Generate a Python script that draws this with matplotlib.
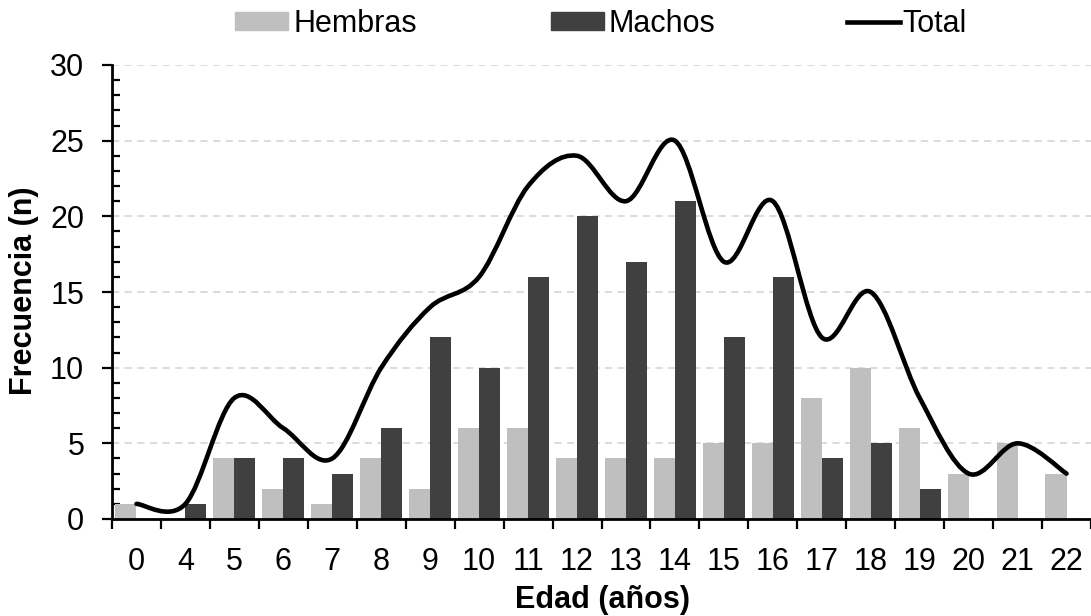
import numpy as np
import matplotlib
matplotlib.use('Agg')
import matplotlib.pyplot as plt
from matplotlib.path import Path
from matplotlib.patches import PathPatch, Patch
from matplotlib.lines import Line2D
from matplotlib.ticker import FixedLocator, MultipleLocator

edades = ['0', '4', '5', '6', '7', '8', '9', '10', '11', '12', '13',
          '14', '15', '16', '17', '18', '19', '20', '21', '22']
hembras = [1, 0, 4, 2, 1, 4, 2, 6, 6, 4, 4, 4, 5, 5, 8, 10, 6, 3, 5, 3]
machos = [0, 1, 4, 4, 3, 6, 12, 10, 16, 20, 17, 21, 12, 16, 4, 5, 2, 0, 0, 0]
total = [1, 1, 8, 6, 4, 10, 14, 16, 22, 24, 21, 25, 17, 21, 12, 15, 8, 3, 5, 3]

plt.rcParams['font.family'] = ['Liberation Sans', 'DejaVu Sans']
FS = 22
W, H = 1091, 616

fig = plt.figure(figsize=(W / 100, H / 100), dpi=100)
ax = fig.add_axes([112 / W, 1 - 519 / H, 1 - 112 / W, (519 - 65) / H])

x = np.arange(len(edades))
bw = 0.43
ax.bar(x - bw / 2, hembras, bw, color='#bfbfbf', zorder=2)
ax.bar(x + bw / 2, machos, bw, color='#404040', zorder=2)


def smooth_path(xs, ys):
    pts = np.column_stack([xs, ys]).astype(float)
    n = len(pts)
    verts = [pts[0]]
    codes = [Path.MOVETO]
    for i in range(n - 1):
        p0 = pts[i - 1] if i > 0 else pts[i]
        p1 = pts[i]
        p2 = pts[i + 1]
        p3 = pts[i + 2] if i + 2 < n else pts[i + 1]
        c1 = p1 + (p2 - p0) / 6.0
        c2 = p2 - (p3 - p1) / 6.0
        verts += [c1, c2, p2]
        codes += [Path.CURVE4] * 3
    return Path(verts, codes)


ax.add_patch(PathPatch(smooth_path(x, total), facecolor='none',
                       edgecolor='black', lw=3.3, zorder=4,
                       capstyle='round', joinstyle='round'))

ax.set_xlim(-0.5, len(edades) - 0.5)
ax.set_ylim(0, 30)

for s in ['top', 'right']:
    ax.spines[s].set_visible(False)
for s in ['left', 'bottom']:
    ax.spines[s].set_linewidth(2.0)
    ax.spines[s].set_color('black')
    ax.spines[s].set_zorder(5)

ax.set_xticks(x)
ax.set_xticklabels(edades)
ax.xaxis.set_minor_locator(FixedLocator(np.arange(-0.5, len(edades), 1.0)))
ax.tick_params(axis='x', which='major', length=0, pad=20, labelsize=FS)
ax.tick_params(axis='x', which='minor', length=7, width=1.6, direction='out')

ax.yaxis.set_major_locator(MultipleLocator(5))
ax.yaxis.set_minor_locator(MultipleLocator(1))
ax.tick_params(axis='y', which='major', length=7, width=1.6, direction='out',
               pad=13, labelsize=FS)
ax.tick_params(axis='y', which='minor', length=6, width=1.6, direction='in')

ax.yaxis.grid(True, which='major', linestyle=(0, (4, 3)), color='#d9d9d9',
              linewidth=1.3, zorder=0)
ax.set_axisbelow(True)

fig.text(24 / W, 1 - 291 / H, 'Frecuencia (n)', rotation=90, ha='center',
         va='center', fontsize=FS, fontweight='bold')
fig.text(603 / W, 1 - 608 / H, 'Edad (años)', ha='center', va='baseline',
         fontsize=FS, fontweight='bold')

common = dict(loc='center left', bbox_transform=fig.transFigure, frameon=False,
              fontsize=FS, borderpad=0, borderaxespad=0, handlelength=1.72,
              handleheight=0.53)
yl = 1 - 24 / H
leg1 = fig.legend(handles=[Patch(color='#bfbfbf', label='Hembras')],
                  bbox_to_anchor=(235 / W, yl), handletextpad=0.2, **common)
leg2 = fig.legend(handles=[Patch(color='#404040', label='Machos')],
                  bbox_to_anchor=(551 / W, yl), handletextpad=0.15, **common)
leg3 = fig.legend(handles=[Line2D([], [], color='black', lw=3.3, label='Total')],
                  bbox_to_anchor=(847 / W, yl), handletextpad=0.1, **common)

fig.savefig('out.png', dpi=100)
